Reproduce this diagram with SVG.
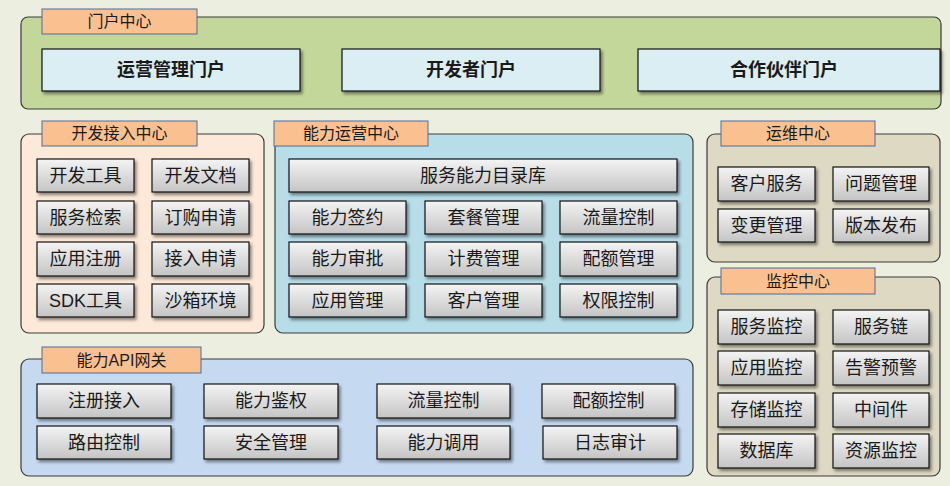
<svg xmlns="http://www.w3.org/2000/svg" width="950" height="486" viewBox="0 0 950 486">
<defs>
<linearGradient id="btn" x1="0" y1="0" x2="0" y2="1">
<stop offset="0" stop-color="#F4F4F4"/>
<stop offset="1" stop-color="#C4C4C4"/>
</linearGradient>
<filter id="sh" x="-10%" y="-20%" width="130%" height="160%">
<feDropShadow dx="2" dy="2.5" stdDeviation="1.5" flood-color="#000" flood-opacity="0.45"/>
</filter>
</defs>
<style>
text{font-family:"Liberation Sans","Noto Sans CJK SC",sans-serif;fill:#1a1a1a;text-anchor:middle;dominant-baseline:central}
.cont{stroke:#3a3a3a;stroke-width:1.2}
.lab{fill:#FAC090;stroke:#4F6D9A;stroke-width:1}
.lt{font-size:16px}
.btn{fill:url(#btn);stroke:#111;stroke-width:1.2;filter:url(#sh)}
.bt{font-size:18px}
.portal{fill:#DAEEF3;stroke:#111;stroke-width:1.2;filter:url(#sh)}
.pt{font-size:18px;font-weight:bold}
</style>
<rect x="0" y="0" width="950" height="486" fill="#ECEFDF"/>

<g id="portal-center">
<rect class="cont" x="21" y="17" width="920" height="92" rx="7" fill="#C4D79B"/>
<rect class="lab" x="42" y="9" width="155" height="25"/>
<text class="lt" x="119.5" y="21.5">门户中心</text>
<g id="p1"><rect class="portal" x="42" y="49" width="258" height="42"/><text class="pt" x="171" y="70">运营管理门户</text></g>
<g id="p2"><rect class="portal" x="342" y="49" width="258" height="42"/><text class="pt" x="471" y="70">开发者门户</text></g>
<g id="p3"><rect class="portal" x="638" y="49" width="302" height="42"/><text class="pt" x="784" y="70">合作伙伴门户</text></g>
</g>

<g id="dev-center">
<rect class="cont" x="21" y="134" width="243" height="199" rx="8" fill="#FDE9D9"/>
<rect class="lab" x="42" y="121" width="155" height="25"/>
<text class="lt" x="119.5" y="133.5">开发接入中心</text>
<g id="d1"><rect class="btn" x="37" y="159" width="97" height="33"/><text class="bt" x="85.5" y="175.5">开发工具</text></g>
<g id="d2"><rect class="btn" x="152" y="159" width="97" height="33"/><text class="bt" x="200.5" y="175.5">开发文档</text></g>
<g id="d3"><rect class="btn" x="37" y="201" width="97" height="33"/><text class="bt" x="85.5" y="217.5">服务检索</text></g>
<g id="d4"><rect class="btn" x="152" y="201" width="97" height="33"/><text class="bt" x="200.5" y="217.5">订购申请</text></g>
<g id="d5"><rect class="btn" x="37" y="242" width="97" height="34"/><text class="bt" x="85.5" y="259">应用注册</text></g>
<g id="d6"><rect class="btn" x="152" y="242" width="97" height="34"/><text class="bt" x="200.5" y="259">接入申请</text></g>
<g id="d7"><rect class="btn" x="37" y="284" width="97" height="33"/><text class="bt" x="85.5" y="300.5">SDK工具</text></g>
<g id="d8"><rect class="btn" x="152" y="284" width="97" height="33"/><text class="bt" x="200.5" y="300.5">沙箱环境</text></g>
</g>

<g id="ops-center">
<rect class="cont" x="275" y="134" width="418" height="199" rx="8" fill="#B7DDE8"/>
<rect class="lab" x="274" y="121" width="154" height="25"/>
<text class="lt" x="351" y="133.5">能力运营中心</text>
<g id="o0"><rect class="btn" x="289" y="159" width="388" height="33"/><text class="bt" x="483" y="175.5">服务能力目录库</text></g>
<g id="o1"><rect class="btn" x="289" y="201" width="117" height="33"/><text class="bt" x="347.5" y="217.5">能力签约</text></g>
<g id="o2"><rect class="btn" x="425" y="201" width="117" height="33"/><text class="bt" x="483.5" y="217.5">套餐管理</text></g>
<g id="o3"><rect class="btn" x="560" y="201" width="117" height="33"/><text class="bt" x="618.5" y="217.5">流量控制</text></g>
<g id="o4"><rect class="btn" x="289" y="242" width="117" height="34"/><text class="bt" x="347.5" y="259">能力审批</text></g>
<g id="o5"><rect class="btn" x="425" y="242" width="117" height="34"/><text class="bt" x="483.5" y="259">计费管理</text></g>
<g id="o6"><rect class="btn" x="560" y="242" width="117" height="34"/><text class="bt" x="618.5" y="259">配额管理</text></g>
<g id="o7"><rect class="btn" x="289" y="284" width="117" height="33"/><text class="bt" x="347.5" y="300.5">应用管理</text></g>
<g id="o8"><rect class="btn" x="425" y="284" width="117" height="33"/><text class="bt" x="483.5" y="300.5">客户管理</text></g>
<g id="o9"><rect class="btn" x="560" y="284" width="117" height="33"/><text class="bt" x="618.5" y="300.5">权限控制</text></g>
</g>

<g id="maint-center">
<rect class="cont" x="707" y="134" width="233" height="128" rx="8" fill="#DDD9C3"/>
<rect class="lab" x="721" y="121" width="154" height="25"/>
<text class="lt" x="798" y="133.5">运维中心</text>
<g id="m1"><rect class="btn" x="718" y="167" width="97" height="34"/><text class="bt" x="766.5" y="184">客户服务</text></g>
<g id="m2"><rect class="btn" x="833" y="167" width="96" height="34"/><text class="bt" x="881" y="184">问题管理</text></g>
<g id="m3"><rect class="btn" x="718" y="209" width="97" height="33"/><text class="bt" x="766.5" y="225.5">变更管理</text></g>
<g id="m4"><rect class="btn" x="833" y="209" width="96" height="33"/><text class="bt" x="881" y="225.5">版本发布</text></g>
</g>

<g id="monitor-center">
<rect class="cont" x="707" y="277" width="233" height="199" rx="8" fill="#DDD9C3"/>
<rect class="lab" x="721" y="268" width="154" height="26"/>
<text class="lt" x="798" y="281">监控中心</text>
<g id="k1"><rect class="btn" x="718" y="310" width="97" height="34"/><text class="bt" x="766.5" y="327">服务监控</text></g>
<g id="k2"><rect class="btn" x="833" y="310" width="96" height="34"/><text class="bt" x="881" y="327">服务链</text></g>
<g id="k3"><rect class="btn" x="718" y="351" width="97" height="34"/><text class="bt" x="766.5" y="368">应用监控</text></g>
<g id="k4"><rect class="btn" x="833" y="351" width="96" height="34"/><text class="bt" x="881" y="368">告警预警</text></g>
<g id="k5"><rect class="btn" x="718" y="393" width="97" height="34"/><text class="bt" x="766.5" y="410">存储监控</text></g>
<g id="k6"><rect class="btn" x="833" y="393" width="96" height="34"/><text class="bt" x="881" y="410">中间件</text></g>
<g id="k7"><rect class="btn" x="718" y="434" width="97" height="34"/><text class="bt" x="766.5" y="451">数据库</text></g>
<g id="k8"><rect class="btn" x="833" y="434" width="96" height="34"/><text class="bt" x="881" y="451">资源监控</text></g>
</g>

<g id="api-gateway">
<rect class="cont" x="21" y="359" width="672" height="117" rx="8" fill="#C5D9F1"/>
<rect class="lab" x="42" y="347" width="159" height="26"/>
<text class="lt" x="121.5" y="360">能力API网关</text>
<g id="a1"><rect class="btn" x="37" y="384" width="134" height="34"/><text class="bt" x="104" y="401">注册接入</text></g>
<g id="a2"><rect class="btn" x="204" y="384" width="134" height="34"/><text class="bt" x="271" y="401">能力鉴权</text></g>
<g id="a3"><rect class="btn" x="377" y="384" width="133" height="34"/><text class="bt" x="443.5" y="401">流量控制</text></g>
<g id="a4"><rect class="btn" x="542" y="384" width="133" height="34"/><text class="bt" x="608.5" y="401">配额控制</text></g>
<g id="a5"><rect class="btn" x="37" y="426" width="134" height="33"/><text class="bt" x="104" y="442.5">路由控制</text></g>
<g id="a6"><rect class="btn" x="204" y="426" width="134" height="33"/><text class="bt" x="271" y="442.5">安全管理</text></g>
<g id="a7"><rect class="btn" x="377" y="426" width="133" height="33"/><text class="bt" x="443.5" y="442.5">能力调用</text></g>
<g id="a8"><rect class="btn" x="543" y="426" width="134" height="33"/><text class="bt" x="610" y="442.5">日志审计</text></g>
</g>

<g id="connectors"/>
</svg>
